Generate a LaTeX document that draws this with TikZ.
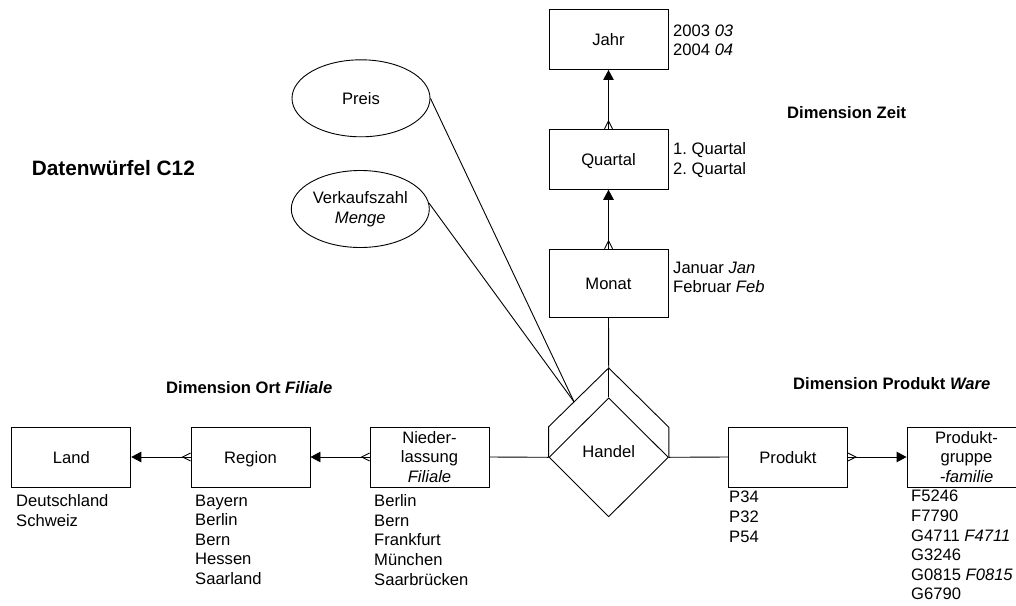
\documentclass[tikz,border=0pt]{standalone}
\usepackage{fontspec}
\setmainfont{Liberation Sans}
\usetikzlibrary{shapes.geometric,arrows.meta,calc}
\frenchspacing

\begin{document}
\begin{tikzpicture}[x=1pt,y=-1pt,
  every node/.style={font=\fontsize{16.6}{19.6}\selectfont},
  entity/.style={draw,line width=0.9pt,rectangle,minimum width=119pt,minimum height=60pt,inner sep=0pt,align=center},
  oneline/.style={text height=14pt,text depth=1.4pt},
  attrib/.style={draw,line width=0.9pt,ellipse,minimum width=138pt,minimum height=77pt,inner sep=0pt,align=center},
  facts/.style={anchor=north west,inner sep=0pt,align=left},
  heading/.style={anchor=west,inner sep=0pt,font=\fontsize{16.6}{19.6}\selectfont\bfseries},
  link/.style={line width=0.9pt},
  rel/.style={line width=0.9pt,-{Triangle[length=10pt,width=10.5pt]}},
  crowfoot/.style={line width=0.9pt},
]
\useasboundingbox (0,0) rectangle (1016,605);

% time dimension
\node[entity,oneline] (jahr) at (608.5,39.5) {Jahr};
\node[entity,oneline] (quartal) at (608.5,159.3) {Quartal};
\node[entity,oneline,minimum height=68pt] (monat) at (608.5,283.2) {Monat};

% location dimension
\node[entity,oneline] (land) at (71.3,457) {Land};
\node[entity,oneline] (region) at (250.5,457) {Region};
\node[entity] (nieder) at (429.5,457) {Nieder-\\lassung\\\textit{Filiale}};

% product dimension
\node[entity,oneline] (produkt) at (788,457) {Produkt};
\node[entity] (gruppe) at (966.5,457) {Produkt-\\gruppe\\\textit{-familie}};

% fact relation with its raised back outline
\node[draw,line width=0.9pt,diamond,aspect=1,minimum width=119.4pt,minimum height=119pt,
      inner sep=0pt,text height=0pt,text depth=0pt] (handel) at (608.7,457.3) {Handel};
\coordinate (hTop) at ($(handel.north)+(0,-29.4)$);
\coordinate (hLeftUp) at ($(handel.west)+(0,-30.5)$);
\coordinate (hRightUp) at ($(handel.east)+(0,-30)$);
\draw[link] (handel.west) -- (hLeftUp) -- (hTop) -- (hRightUp) -- (handel.east);
\draw[link] (hTop) -- (handel.north);
\coordinate (attr) at ($(hLeftUp)!0.424!(hTop)$);

% measures
\node[attrib] (preis) at (361,98.3) {Preis};
\node[attrib] (verk) at (360.3,209) {Verkaufszahl\\\textit{Menge}};
\draw[link] (preis.east) -- (attr);
\draw[link] (verk.5) -- (attr);

% connections to the fact relation
\draw[link] (monat.south) -- (hTop);
\draw[link] (nieder.east) -- (handel.west);
\draw[link] (handel.east) -- (produkt.west);

% hierarchy arrows
\draw[rel] (region.west) -- (land.east);
\draw[rel] (nieder.west) -- (region.east);
\draw[rel] (produkt.east) -- (gruppe.west);
\draw[rel] (quartal.north) -- (jahr.south);
\draw[rel] (monat.north) -- (quartal.south);

% many-side marks
\draw[crowfoot] ($(region.west)+(0,-4)$) -- ($(region.west)+(-8,0)$) -- ($(region.west)+(0,4)$);
\draw[crowfoot] ($(nieder.west)+(0,-4)$) -- ($(nieder.west)+(-8,0)$) -- ($(nieder.west)+(0,4)$);
\draw[crowfoot] ($(produkt.east)+(0,-4)$) -- ($(produkt.east)+(8,0)$) -- ($(produkt.east)+(0,4)$);
\draw[crowfoot] ($(quartal.north)+(-4,0)$) -- ($(quartal.north)+(0,-8)$) -- ($(quartal.north)+(4,0)$);
\draw[crowfoot] ($(monat.north)+(-4,0)$) -- ($(monat.north)+(0,-8)$) -- ($(monat.north)+(4,0)$);

% member values
\node[facts] (jahrvals) at (673,24.5) {2003 \textit{03}\\2004 \textit{04}};
\node[facts] (quartalvals) at (673,142.5) {1. Quartal\\2. Quartal};
\node[facts] (monatvals) at (673,261.5) {Januar \textit{Jan}\\Februar \textit{Feb}};
\node[facts] (landvals) at (16,494.5) {Deutschland\\Schweiz};
\node[facts] (regionvals) at (195,494.5) {Bayern\\Berlin\\Bern\\Hessen\\Saarland};
\node[facts] (niedervals) at (374,494.5) {Berlin\\Bern\\Frankfurt\\München\\Saarbrücken};
\node[facts] (produktvals) at (729,491) {P34\\P32\\P54};
\node[facts] (gruppevals) at (911,490) {F5246\\F7790\\G4711 \textit{F4711}\\G3246\\G0815 \textit{F0815}\\G6790};

% headings
\node[heading,font=\fontsize{20.8}{24}\selectfont\bfseries] (cube) at (31.7,168) {Datenwürfel C12};
\node[heading] (dimort) at (166,387.7) {Dimension Ort \textit{Filiale}};
\node[heading] (dimprod) at (793,383.3) {Dimension Produkt \textit{Ware}};
\node[heading] (dimzeit) at (787,112.7) {Dimension Zeit};
\end{tikzpicture}
\end{document}
